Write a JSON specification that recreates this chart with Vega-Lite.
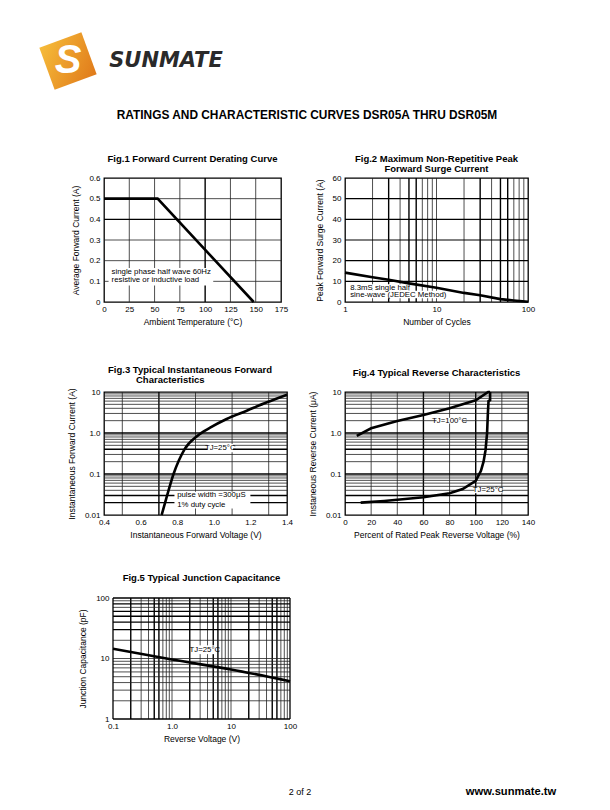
{
  "$schema": "https://vega.github.io/schema/vega-lite/v6.json",
  "background": "white",
  "padding": 0,
  "config": {
    "view": {"stroke": null},
    "concat": {"spacing": 0},
    "axis": {"domain": false, "ticks": false, "grid": false, "labelFont": "Liberation Sans", "labelFontSize": 8, "labelColor": "#000", "labelPadding": 3, "titleFont": "Liberation Sans", "titleFontSize": 8.5, "titleFontWeight": "normal", "titleColor": "#000", "titlePadding": 4, "labelOverlap": false, "labelFlush": false},
    "axisY": {"titlePadding": 8, "labelPadding": 4},
    "title": {"font": "Liberation Sans", "fontSize": 9.5, "fontWeight": "bold", "color": "#000", "anchor": "middle", "lineHeight": 10},
    "text": {"font": "Liberation Sans", "fontSize": 7.8, "color": "#000"}
  },
  "datasets": {
    "one": [{}],
    "none": [],
    "f1v_thin": [{"x": 25}, {"x": 50}, {"x": 75}, {"x": 125}, {"x": 150}],
    "f1v_bold": [{"x": 100}],
    "f1h_thin": [{"y": 0.1}, {"y": 0.2}, {"y": 0.3}, {"y": 0.5}],
    "f1h_bold": [{"y": 0.4}],
    "f1_curve": [{"x": 0, "y": 0.5}, {"x": 53, "y": 0.5}, {"x": 148, "y": 0}],
    "f1_box": [{"x": 4.5, "x2": 108, "y": 0.08, "y2": 0.165}],
    "f1_text": [{"x": 7.5, "y": 0.147, "t": "single phase half wave 60Hz"}, {"x": 7.5, "y": 0.106, "t": "resistive or inductive load"}],
    "f2v_thin": [{"x": 2}, {"x": 4}, {"x": 7}, {"x": 8}, {"x": 9}, {"x": 10}, {"x": 20}, {"x": 40}, {"x": 70}, {"x": 80}, {"x": 90}],
    "f2v_bold": [{"x": 3}, {"x": 5}, {"x": 6}, {"x": 30}, {"x": 50}, {"x": 60}],
    "f2h_bold": [{"y": 10}, {"y": 20}, {"y": 30}, {"y": 40}, {"y": 50}],
    "f2_curve": [{"x": 1, "y": 14.2}, {"x": 2, "y": 12}, {"x": 3, "y": 10.8}, {"x": 5, "y": 9}, {"x": 10, "y": 6.9}, {"x": 20, "y": 4.4}, {"x": 30, "y": 3.3}, {"x": 50, "y": 1.4}, {"x": 70, "y": 0.7}, {"x": 100, "y": 0.1}],
    "f2_box": [{"x": 1.08, "x2": 5.3, "y": 5.4, "y2": 8.6}, {"x": 1.08, "x2": 12.5, "y": 1.8, "y2": 5.4}],
    "f2_text": [{"x": 1.14, "y": 7.0, "t": "8.3mS single half"}, {"x": 1.14, "y": 3.4, "t": "sine-wave (JEDEC Method)"}],
    "f3v_thin": [{"x": 0.5}, {"x": 0.9}, {"x": 1.1}, {"x": 1.3}],
    "f3v_bold": [{"x": 0.7}],
    "logh_thin": [{"y": 0.04}, {"y": 0.05}, {"y": 0.06}, {"y": 0.07}, {"y": 0.08}, {"y": 0.09}, {"y": 0.2}, {"y": 0.3}, {"y": 0.5}, {"y": 0.6}, {"y": 0.7}, {"y": 0.8}, {"y": 0.9}, {"y": 2}, {"y": 3}, {"y": 4}, {"y": 5}, {"y": 6}, {"y": 7}, {"y": 8}, {"y": 9}],
    "logh_bold": [{"y": 0.02}, {"y": 0.03}, {"y": 0.1}, {"y": 0.4}, {"y": 1}],
    "f3_curve": [{"x": 0.715, "y": 0.01}, {"x": 0.74, "y": 0.025}, {"x": 0.78, "y": 0.1}, {"x": 0.84, "y": 0.4}, {"x": 0.91, "y": 0.85}, {"x": 0.98, "y": 1.35}, {"x": 1.07, "y": 2.2}, {"x": 1.18, "y": 3.5}, {"x": 1.29, "y": 5.6}, {"x": 1.4, "y": 8.6}],
    "f3_box": [{"x": 0.965, "x2": 1.105, "y": 0.34, "y2": 0.54}, {"x": 0.785, "x2": 1.2, "y": 0.0145, "y2": 0.037}],
    "f3_textc": [{"x": 1.035, "y": 0.43, "t": "TJ=25°C"}],
    "f3_textl": [{"x": 0.8, "y": 0.031, "t": "pulse width =300μS"}, {"x": 0.8, "y": 0.0175, "t": "1% duty cycle"}],
    "f4v_thin": [{"x": 20}, {"x": 40}, {"x": 80}, {"x": 120}],
    "f4v_bold": [{"x": 60}, {"x": 100}],
    "f4_c100": [{"x": 9, "y": 0.85}, {"x": 20, "y": 1.3}, {"x": 40, "y": 1.95}, {"x": 60, "y": 2.75}, {"x": 80, "y": 4.0}, {"x": 100, "y": 6.3}, {"x": 109.5, "y": 10}, {"x": 111, "y": 10}],
    "f4_c25": [{"x": 12, "y": 0.02}, {"x": 30, "y": 0.022}, {"x": 60, "y": 0.027}, {"x": 80, "y": 0.034}, {"x": 90, "y": 0.043}, {"x": 100, "y": 0.068}, {"x": 104, "y": 0.12}, {"x": 106, "y": 0.2}, {"x": 107.5, "y": 0.38}, {"x": 108.7, "y": 1.0}, {"x": 109.3, "y": 3}, {"x": 109.8, "y": 6}, {"x": 111, "y": 6.3}, {"x": 111, "y": 10}],
    "f4_box": [{"x": 70, "x2": 90, "y": 1.7, "y2": 2.35}, {"x": 99, "x2": 120, "y": 0.034, "y2": 0.047}],
    "f4_text": [{"x": 80, "y": 2, "t": "TJ=100°C"}, {"x": 109.5, "y": 0.04, "t": "TJ=25°C"}],
    "f5v_thin": [{"x": 0.3}, {"x": 0.4}, {"x": 0.7}, {"x": 0.8}, {"x": 0.9}, {"x": 1}, {"x": 3}, {"x": 4}, {"x": 7}, {"x": 8}, {"x": 9}, {"x": 10}, {"x": 30}, {"x": 40}, {"x": 70}, {"x": 80}, {"x": 90}],
    "f5v_bold": [{"x": 0.2}, {"x": 0.5}, {"x": 0.6}, {"x": 2}, {"x": 5}, {"x": 6}, {"x": 20}, {"x": 50}, {"x": 60}],
    "f5h_thin": [{"y": 2}, {"y": 3}, {"y": 4}, {"y": 5}, {"y": 6}, {"y": 7}, {"y": 8}, {"y": 9}, {"y": 10}, {"y": 20}, {"y": 70}, {"y": 90}],
    "f5h_bold": [{"y": 30}, {"y": 40}, {"y": 50}, {"y": 60}, {"y": 80}],
    "f5_curve": [{"x": 0.1, "y": 14.5}, {"x": 1, "y": 9.6}, {"x": 10, "y": 6.6}, {"x": 100, "y": 4.2}],
    "f5_box": [{"x": 2.3, "x2": 5.6, "y": 11.8, "y2": 16.5}],
    "f5_text": [{"x": 3.6, "y": 14, "t": "TJ=25°C"}]
  },
  "columns": 4,
  "align": "each",
  "bounds": "flush",
  "spacing": 0,
  "concat": [
    {"width": 104, "height": 100, "data": {"name": "one"}, "layer": [
      {"mark": {"type": "point", "shape": "square", "size": 2000, "angle": -20, "filled": true, "opacity": 1, "strokeWidth": 0, "xOffset": 16, "yOffset": 11, "fill": {"gradient": "linear", "x1": 0, "y1": 0, "x2": 1, "y2": 1, "stops": [{"offset": 0, "color": "#F6BC3A"}, {"offset": 1, "color": "#E07A1A"}]}}},
      {"mark": {"type": "text", "text": "S", "font": "Liberation Sans", "fontWeight": "bold", "fontStyle": "italic", "fontSize": 40, "color": "#ffffff", "dx": 16, "dy": 11}}
    ]},
    {"width": 183, "height": 100, "data": {"name": "one"}, "mark": {"type": "text", "text": "SUNMATE", "font": "DejaVu Sans", "fontWeight": "bold", "fontStyle": "italic", "fontSize": 21, "color": "#2a2a2a", "dx": -29.5, "dy": 11}},
    {"width": 1, "height": 1, "data": {"name": "none"}, "mark": "point"},
    {"width": 1, "height": 1, "data": {"name": "none"}, "mark": "point"},

    {"width": 1, "height": 30, "data": {"name": "none"}, "mark": "point"},
    {"width": 1, "height": 1, "data": {"name": "none"}, "mark": "point"},
    {"width": 55, "height": 30, "data": {"name": "one"}, "mark": {"type": "text", "text": "RATINGS AND CHARACTERISTIC CURVES DSR05A THRU DSR05M", "font": "Liberation Sans", "fontWeight": "bold", "fontSize": 11.9, "color": "#000", "dx": -10.5}},
    {"width": 1, "height": 1, "data": {"name": "none"}, "mark": "point"},

    {"width": 1, "height": 48, "data": {"name": "none"}, "mark": "point"},
    {"width": 1, "height": 1, "data": {"name": "none"}, "mark": "point"},
    {"width": 1, "height": 1, "data": {"name": "none"}, "mark": "point"},
    {"width": 1, "height": 1, "data": {"name": "none"}, "mark": "point"},

    {"width": 1, "height": 1, "data": {"name": "none"}, "mark": "point"},
    {"width": 177, "height": 124,
     "view": {"stroke": "#000", "strokeWidth": 1.3},
     "title": {"text": "Fig.1 Forward Current Derating Curve", "offset": 11},
     "layer": [
      {"data": {"name": "f1v_thin"}, "mark": {"type": "rule", "color": "#222", "strokeWidth": 0.8},
       "encoding": {"x": {"field": "x", "type": "quantitative", "scale": {"domain": [0, 175], "nice": false, "zero": false}, "axis": {"values": [0, 25, 50, 75, 100, 125, 150, 175], "tickCount": 30, "labelOverlap": false, "title": "Ambient Temperature (°C)"}}}},
      {"data": {"name": "f1h_thin"}, "mark": {"type": "rule", "color": "#222", "strokeWidth": 0.8},
       "encoding": {"y": {"field": "y", "type": "quantitative", "scale": {"domain": [0, 0.6], "nice": false, "zero": false}, "axis": {"values": [0, 0.1, 0.2, 0.3, 0.4, 0.5, 0.6], "tickCount": 30, "labelOverlap": false, "labelExpr": "datum.value == 0 ? '0' : format(datum.value, '.1f')", "title": "Average Forward Current (A)"}}}},
      {"data": {"name": "f1v_bold"}, "mark": {"type": "rule", "color": "#000", "strokeWidth": 1.4},
       "encoding": {"x": {"field": "x", "type": "quantitative", "scale": {"domain": [0, 175], "nice": false, "zero": false}}}},
      {"data": {"name": "f1h_bold"}, "mark": {"type": "rule", "color": "#000", "strokeWidth": 1.4},
       "encoding": {"y": {"field": "y", "type": "quantitative", "scale": {"domain": [0, 0.6], "nice": false, "zero": false}}}},
      {"data": {"name": "f1_box"}, "mark": {"type": "rect", "color": "#fff"},
       "encoding": {"x": {"field": "x", "type": "quantitative", "scale": {"domain": [0, 175], "nice": false, "zero": false}}, "x2": {"field": "x2"}, "y": {"field": "y", "type": "quantitative", "scale": {"domain": [0, 0.6], "nice": false, "zero": false}}, "y2": {"field": "y2"}}},
      {"data": {"name": "f1_curve"}, "mark": {"type": "line", "color": "#000", "strokeWidth": 2.6},
       "encoding": {"x": {"field": "x", "type": "quantitative", "scale": {"domain": [0, 175], "nice": false, "zero": false}}, "y": {"field": "y", "type": "quantitative", "scale": {"domain": [0, 0.6], "nice": false, "zero": false}}}},
      {"data": {"name": "f1_text"}, "mark": {"type": "text", "align": "left"},
       "encoding": {"x": {"field": "x", "type": "quantitative", "scale": {"domain": [0, 175], "nice": false, "zero": false}}, "y": {"field": "y", "type": "quantitative", "scale": {"domain": [0, 0.6], "nice": false, "zero": false}}, "text": {"field": "t"}}}
     ]},
    {"width": 1, "height": 1, "data": {"name": "none"}, "mark": "point"},
    {"width": 183, "height": 124,
     "view": {"stroke": "#000", "strokeWidth": 1.3},
     "title": {"text": ["Fig.2 Maximum Non-Repetitive Peak", "Forward Surge Current"], "offset": 1},
     "layer": [
      {"data": {"name": "f2v_thin"}, "mark": {"type": "rule", "color": "#222", "strokeWidth": 0.8},
       "encoding": {"x": {"field": "x", "type": "quantitative", "scale": {"type": "log", "domain": [1, 100], "nice": false}, "axis": {"values": [1, 10, 100], "tickCount": 30, "labelOverlap": false, "labelExpr": "format(datum.value, 'd')", "title": "Number of Cycles"}}}},
      {"data": {"name": "f2v_bold"}, "mark": {"type": "rule", "color": "#000", "strokeWidth": 1.4},
       "encoding": {"x": {"field": "x", "type": "quantitative", "scale": {"type": "log", "domain": [1, 100], "nice": false}}}},
      {"data": {"name": "f2h_bold"}, "mark": {"type": "rule", "color": "#000", "strokeWidth": 1.2},
       "encoding": {"y": {"field": "y", "type": "quantitative", "scale": {"domain": [0, 60], "nice": false, "zero": false}, "axis": {"values": [0, 10, 20, 30, 40, 50, 60], "tickCount": 30, "labelOverlap": false, "title": "Peak Forward Surge Current (A)"}}}},
      {"data": {"name": "f2_box"}, "mark": {"type": "rect", "color": "#fff"},
       "encoding": {"x": {"field": "x", "type": "quantitative", "scale": {"type": "log", "domain": [1, 100], "nice": false}}, "x2": {"field": "x2"}, "y": {"field": "y", "type": "quantitative", "scale": {"domain": [0, 60], "nice": false, "zero": false}}, "y2": {"field": "y2"}}},
      {"data": {"name": "f2_curve"}, "mark": {"type": "line", "color": "#000", "strokeWidth": 2.6},
       "encoding": {"x": {"field": "x", "type": "quantitative", "scale": {"type": "log", "domain": [1, 100], "nice": false}}, "y": {"field": "y", "type": "quantitative", "scale": {"domain": [0, 60], "nice": false, "zero": false}}}},
      {"data": {"name": "f2_text"}, "mark": {"type": "text", "align": "left"},
       "encoding": {"x": {"field": "x", "type": "quantitative", "scale": {"type": "log", "domain": [1, 100], "nice": false}}, "y": {"field": "y", "type": "quantitative", "scale": {"domain": [0, 60], "nice": false, "zero": false}}, "text": {"field": "t"}}}
     ]},

    {"width": 1, "height": 90, "data": {"name": "none"}, "mark": "point"},
    {"width": 1, "height": 1, "data": {"name": "none"}, "mark": "point"},
    {"width": 1, "height": 1, "data": {"name": "none"}, "mark": "point"},
    {"width": 1, "height": 1, "data": {"name": "none"}, "mark": "point"},

    {"width": 1, "height": 1, "data": {"name": "none"}, "mark": "point"},
    {"width": 183, "height": 123,
     "view": {"stroke": "#000", "strokeWidth": 1.3},
     "title": {"text": ["Fig.3 Typical Instantaneous Forward", "\u2800\u2800\u2800\u2800Characteristics"], "anchor": "start", "frame": "group", "dx": 4, "offset": 3},
     "layer": [
      {"data": {"name": "f3v_thin"}, "mark": {"type": "rule", "color": "#222", "strokeWidth": 0.8},
       "encoding": {"x": {"field": "x", "type": "quantitative", "scale": {"domain": [0.4, 1.4], "nice": false, "zero": false}, "axis": {"values": [0.4, 0.6, 0.8, 1.0, 1.2, 1.4], "tickCount": 30, "labelOverlap": false, "labelExpr": "format(datum.value, '.1f')", "title": "Instantaneous Forward Voltage (V)"}}}},
      {"data": {"name": "f3v_bold"}, "mark": {"type": "rule", "color": "#000", "strokeWidth": 1.4},
       "encoding": {"x": {"field": "x", "type": "quantitative", "scale": {"domain": [0.4, 1.4], "nice": false, "zero": false}}}},
      {"data": {"name": "logh_thin"}, "mark": {"type": "rule", "color": "#222", "strokeWidth": 0.8},
       "encoding": {"y": {"field": "y", "type": "quantitative", "scale": {"type": "log", "domain": [0.01, 10], "nice": false}, "axis": {"values": [0.01, 0.1, 1, 10], "tickCount": 30, "labelOverlap": false, "labelExpr": "datum.value < 0.05 ? '0.01' : datum.value < 0.5 ? '0.1' : datum.value < 5 ? '1.0' : '10'", "title": "Instantaneous Forward Current (A)"}}}},
      {"data": {"name": "logh_bold"}, "mark": {"type": "rule", "color": "#000", "strokeWidth": 1.4},
       "encoding": {"y": {"field": "y", "type": "quantitative", "scale": {"type": "log", "domain": [0.01, 10], "nice": false}}}},
      {"data": {"name": "f3_box"}, "mark": {"type": "rect", "color": "#fff"},
       "encoding": {"x": {"field": "x", "type": "quantitative", "scale": {"domain": [0.4, 1.4], "nice": false, "zero": false}}, "x2": {"field": "x2"}, "y": {"field": "y", "type": "quantitative", "scale": {"type": "log", "domain": [0.01, 10], "nice": false}}, "y2": {"field": "y2"}}},
      {"data": {"name": "f3_curve"}, "mark": {"type": "line", "color": "#000", "strokeWidth": 2.6, "interpolate": "monotone"},
       "encoding": {"x": {"field": "x", "type": "quantitative", "scale": {"domain": [0.4, 1.4], "nice": false, "zero": false}}, "y": {"field": "y", "type": "quantitative", "scale": {"type": "log", "domain": [0.01, 10], "nice": false}}}},
      {"data": {"name": "f3_textc"}, "mark": {"type": "text", "align": "center"},
       "encoding": {"x": {"field": "x", "type": "quantitative", "scale": {"domain": [0.4, 1.4], "nice": false, "zero": false}}, "y": {"field": "y", "type": "quantitative", "scale": {"type": "log", "domain": [0.01, 10], "nice": false}}, "text": {"field": "t"}}},
      {"data": {"name": "f3_textl"}, "mark": {"type": "text", "align": "left"},
       "encoding": {"x": {"field": "x", "type": "quantitative", "scale": {"domain": [0.4, 1.4], "nice": false, "zero": false}}, "y": {"field": "y", "type": "quantitative", "scale": {"type": "log", "domain": [0.01, 10], "nice": false}}, "text": {"field": "t"}}}
     ]},
    {"width": 1, "height": 1, "data": {"name": "none"}, "mark": "point"},
    {"width": 183, "height": 123,
     "view": {"stroke": "#000", "strokeWidth": 1.3},
     "title": {"text": "Fig.4 Typical Reverse Characteristics", "offset": 9.5},
     "layer": [
      {"data": {"name": "f4v_thin"}, "mark": {"type": "rule", "color": "#222", "strokeWidth": 0.8},
       "encoding": {"x": {"field": "x", "type": "quantitative", "scale": {"domain": [0, 140], "nice": false, "zero": false}, "axis": {"values": [0, 20, 40, 60, 80, 100, 120, 140], "tickCount": 30, "labelOverlap": false, "title": "Percent of Rated Peak Reverse Voltage (%)"}}}},
      {"data": {"name": "f4v_bold"}, "mark": {"type": "rule", "color": "#000", "strokeWidth": 1.4},
       "encoding": {"x": {"field": "x", "type": "quantitative", "scale": {"domain": [0, 140], "nice": false, "zero": false}}}},
      {"data": {"name": "logh_thin"}, "mark": {"type": "rule", "color": "#222", "strokeWidth": 0.8},
       "encoding": {"y": {"field": "y", "type": "quantitative", "scale": {"type": "log", "domain": [0.01, 10], "nice": false}, "axis": {"values": [0.01, 0.1, 1, 10], "tickCount": 30, "labelOverlap": false, "labelExpr": "datum.value < 0.05 ? '0.01' : datum.value < 0.5 ? '0.1' : datum.value < 5 ? '1.0' : '10'", "title": "Instaneous Reverse Current (μA)"}}}},
      {"data": {"name": "logh_bold"}, "mark": {"type": "rule", "color": "#000", "strokeWidth": 1.4},
       "encoding": {"y": {"field": "y", "type": "quantitative", "scale": {"type": "log", "domain": [0.01, 10], "nice": false}}}},
      {"data": {"name": "f4_box"}, "mark": {"type": "rect", "color": "#fff"},
       "encoding": {"x": {"field": "x", "type": "quantitative", "scale": {"domain": [0, 140], "nice": false, "zero": false}}, "x2": {"field": "x2"}, "y": {"field": "y", "type": "quantitative", "scale": {"type": "log", "domain": [0.01, 10], "nice": false}}, "y2": {"field": "y2"}}},
      {"data": {"name": "f4_c100"}, "mark": {"type": "line", "color": "#000", "strokeWidth": 2.6},
       "encoding": {"x": {"field": "x", "type": "quantitative", "scale": {"domain": [0, 140], "nice": false, "zero": false}}, "y": {"field": "y", "type": "quantitative", "scale": {"type": "log", "domain": [0.01, 10], "nice": false}}}},
      {"data": {"name": "f4_c25"}, "mark": {"type": "line", "color": "#000", "strokeWidth": 2.6},
       "encoding": {"x": {"field": "x", "type": "quantitative", "scale": {"domain": [0, 140], "nice": false, "zero": false}}, "y": {"field": "y", "type": "quantitative", "scale": {"type": "log", "domain": [0.01, 10], "nice": false}}, "order": {"field": "x", "type": "quantitative"}}},
      {"data": {"name": "f4_text"}, "mark": {"type": "text", "align": "center"},
       "encoding": {"x": {"field": "x", "type": "quantitative", "scale": {"domain": [0, 140], "nice": false, "zero": false}}, "y": {"field": "y", "type": "quantitative", "scale": {"type": "log", "domain": [0.01, 10], "nice": false}}, "text": {"field": "t"}}}
     ]},

    {"width": 1, "height": 83, "data": {"name": "none"}, "mark": "point"},
    {"width": 1, "height": 1, "data": {"name": "none"}, "mark": "point"},
    {"width": 1, "height": 1, "data": {"name": "none"}, "mark": "point"},
    {"width": 1, "height": 1, "data": {"name": "none"}, "mark": "point"},

    {"width": 1, "height": 1, "data": {"name": "none"}, "mark": "point"},
    {"width": 186, "height": 121,
     "title": {"text": "Fig.5 Typical Junction Capacitance", "offset": 12, "dx": 4.5},
     "layer": [
      {"data": {"name": "f5v_thin"}, "mark": {"type": "rule", "color": "#222", "strokeWidth": 0.8},
       "encoding": {"x": {"field": "x", "type": "quantitative", "scale": {"type": "log", "domain": [0.1, 100], "nice": false, "range": [9, 186]}, "axis": {"values": [0.1, 1, 10, 100], "tickCount": 30, "labelOverlap": false, "labelExpr": "datum.value < 0.5 ? '0.1' : datum.value < 5 ? '1.0' : format(datum.value, 'd')", "title": "Reverse Voltage (V)"}}}},
      {"data": {"name": "f5v_bold"}, "mark": {"type": "rule", "color": "#000", "strokeWidth": 1.4},
       "encoding": {"x": {"field": "x", "type": "quantitative", "scale": {"type": "log", "domain": [0.1, 100], "nice": false, "range": [9, 186]}}}},
      {"data": {"name": "f5h_thin"}, "mark": {"type": "rule", "color": "#222", "strokeWidth": 0.8},
       "encoding": {"y": {"field": "y", "type": "quantitative", "scale": {"type": "log", "domain": [1, 100], "nice": false}, "axis": {"values": [1, 10, 100], "tickCount": 30, "labelOverlap": false, "labelExpr": "format(datum.value, 'd')", "title": "Junction Capacitance (pF)", "offset": -9}},
                    "x": {"datum": 0.1, "type": "quantitative", "scale": {"type": "log", "domain": [0.1, 100], "nice": false, "range": [9, 186]}}, "x2": {"datum": 100}}},
      {"data": {"name": "f5h_bold"}, "mark": {"type": "rule", "color": "#000", "strokeWidth": 1.4},
       "encoding": {"y": {"field": "y", "type": "quantitative", "scale": {"type": "log", "domain": [1, 100], "nice": false}},
                    "x": {"datum": 0.1, "type": "quantitative", "scale": {"type": "log", "domain": [0.1, 100], "nice": false, "range": [9, 186]}}, "x2": {"datum": 100}}},
      {"data": {"name": "one"}, "mark": {"type": "rule", "color": "#000", "strokeWidth": 1.3},
       "encoding": {"x": {"datum": 0.1, "type": "quantitative", "scale": {"type": "log", "domain": [0.1, 100], "nice": false, "range": [9, 186]}}}},
      {"data": {"name": "one"}, "mark": {"type": "rule", "color": "#000", "strokeWidth": 1.3},
       "encoding": {"x": {"datum": 100, "type": "quantitative", "scale": {"type": "log", "domain": [0.1, 100], "nice": false, "range": [9, 186]}}}},
      {"data": {"name": "one"}, "mark": {"type": "rule", "color": "#000", "strokeWidth": 1.3},
       "encoding": {"y": {"datum": 100, "type": "quantitative", "scale": {"type": "log", "domain": [1, 100], "nice": false}},
                    "x": {"datum": 0.1, "type": "quantitative", "scale": {"type": "log", "domain": [0.1, 100], "nice": false, "range": [9, 186]}}, "x2": {"datum": 100}}},
      {"data": {"name": "one"}, "mark": {"type": "rule", "color": "#000", "strokeWidth": 1.3},
       "encoding": {"y": {"datum": 1, "type": "quantitative", "scale": {"type": "log", "domain": [1, 100], "nice": false}},
                    "x": {"datum": 0.1, "type": "quantitative", "scale": {"type": "log", "domain": [0.1, 100], "nice": false, "range": [9, 186]}}, "x2": {"datum": 100}}},
      {"data": {"name": "f5_box"}, "mark": {"type": "rect", "color": "#fff"},
       "encoding": {"x": {"field": "x", "type": "quantitative", "scale": {"type": "log", "domain": [0.1, 100], "nice": false, "range": [9, 186]}}, "x2": {"field": "x2"}, "y": {"field": "y", "type": "quantitative", "scale": {"type": "log", "domain": [1, 100], "nice": false}}, "y2": {"field": "y2"}}},
      {"data": {"name": "f5_curve"}, "mark": {"type": "line", "color": "#000", "strokeWidth": 2.6, "interpolate": "monotone"},
       "encoding": {"x": {"field": "x", "type": "quantitative", "scale": {"type": "log", "domain": [0.1, 100], "nice": false, "range": [9, 186]}}, "y": {"field": "y", "type": "quantitative", "scale": {"type": "log", "domain": [1, 100], "nice": false}}}},
      {"data": {"name": "f5_text"}, "mark": {"type": "text", "align": "center"},
       "encoding": {"x": {"field": "x", "type": "quantitative", "scale": {"type": "log", "domain": [0.1, 100], "nice": false, "range": [9, 186]}}, "y": {"field": "y", "type": "quantitative", "scale": {"type": "log", "domain": [1, 100], "nice": false}}, "text": {"field": "t"}}}
     ]},
    {"width": 1, "height": 1, "data": {"name": "none"}, "mark": "point"},
    {"width": 1, "height": 1, "data": {"name": "none"}, "mark": "point"},

    {"width": 1, "height": 63, "data": {"name": "none"}, "mark": "point"},
    {"width": 1, "height": 1, "data": {"name": "none"}, "mark": "point"},
    {"width": 1, "height": 1, "data": {"name": "none"}, "mark": "point"},
    {"width": 1, "height": 1, "data": {"name": "none"}, "mark": "point"},

    {"width": 1, "height": 1, "data": {"name": "none"}, "mark": "point"},
    {"width": 1, "height": 1, "data": {"name": "none"}, "mark": "point"},
    {"width": 55, "height": 20, "data": {"name": "one"}, "mark": {"type": "text", "text": "2 of 2", "fontSize": 9, "dx": -17.5}},
    {"width": 183, "height": 20, "data": {"name": "one"}, "mark": {"type": "text", "text": "www.sunmate.tw", "fontSize": 11.2, "fontWeight": "bold", "dx": 74.5}}
  ]
}
